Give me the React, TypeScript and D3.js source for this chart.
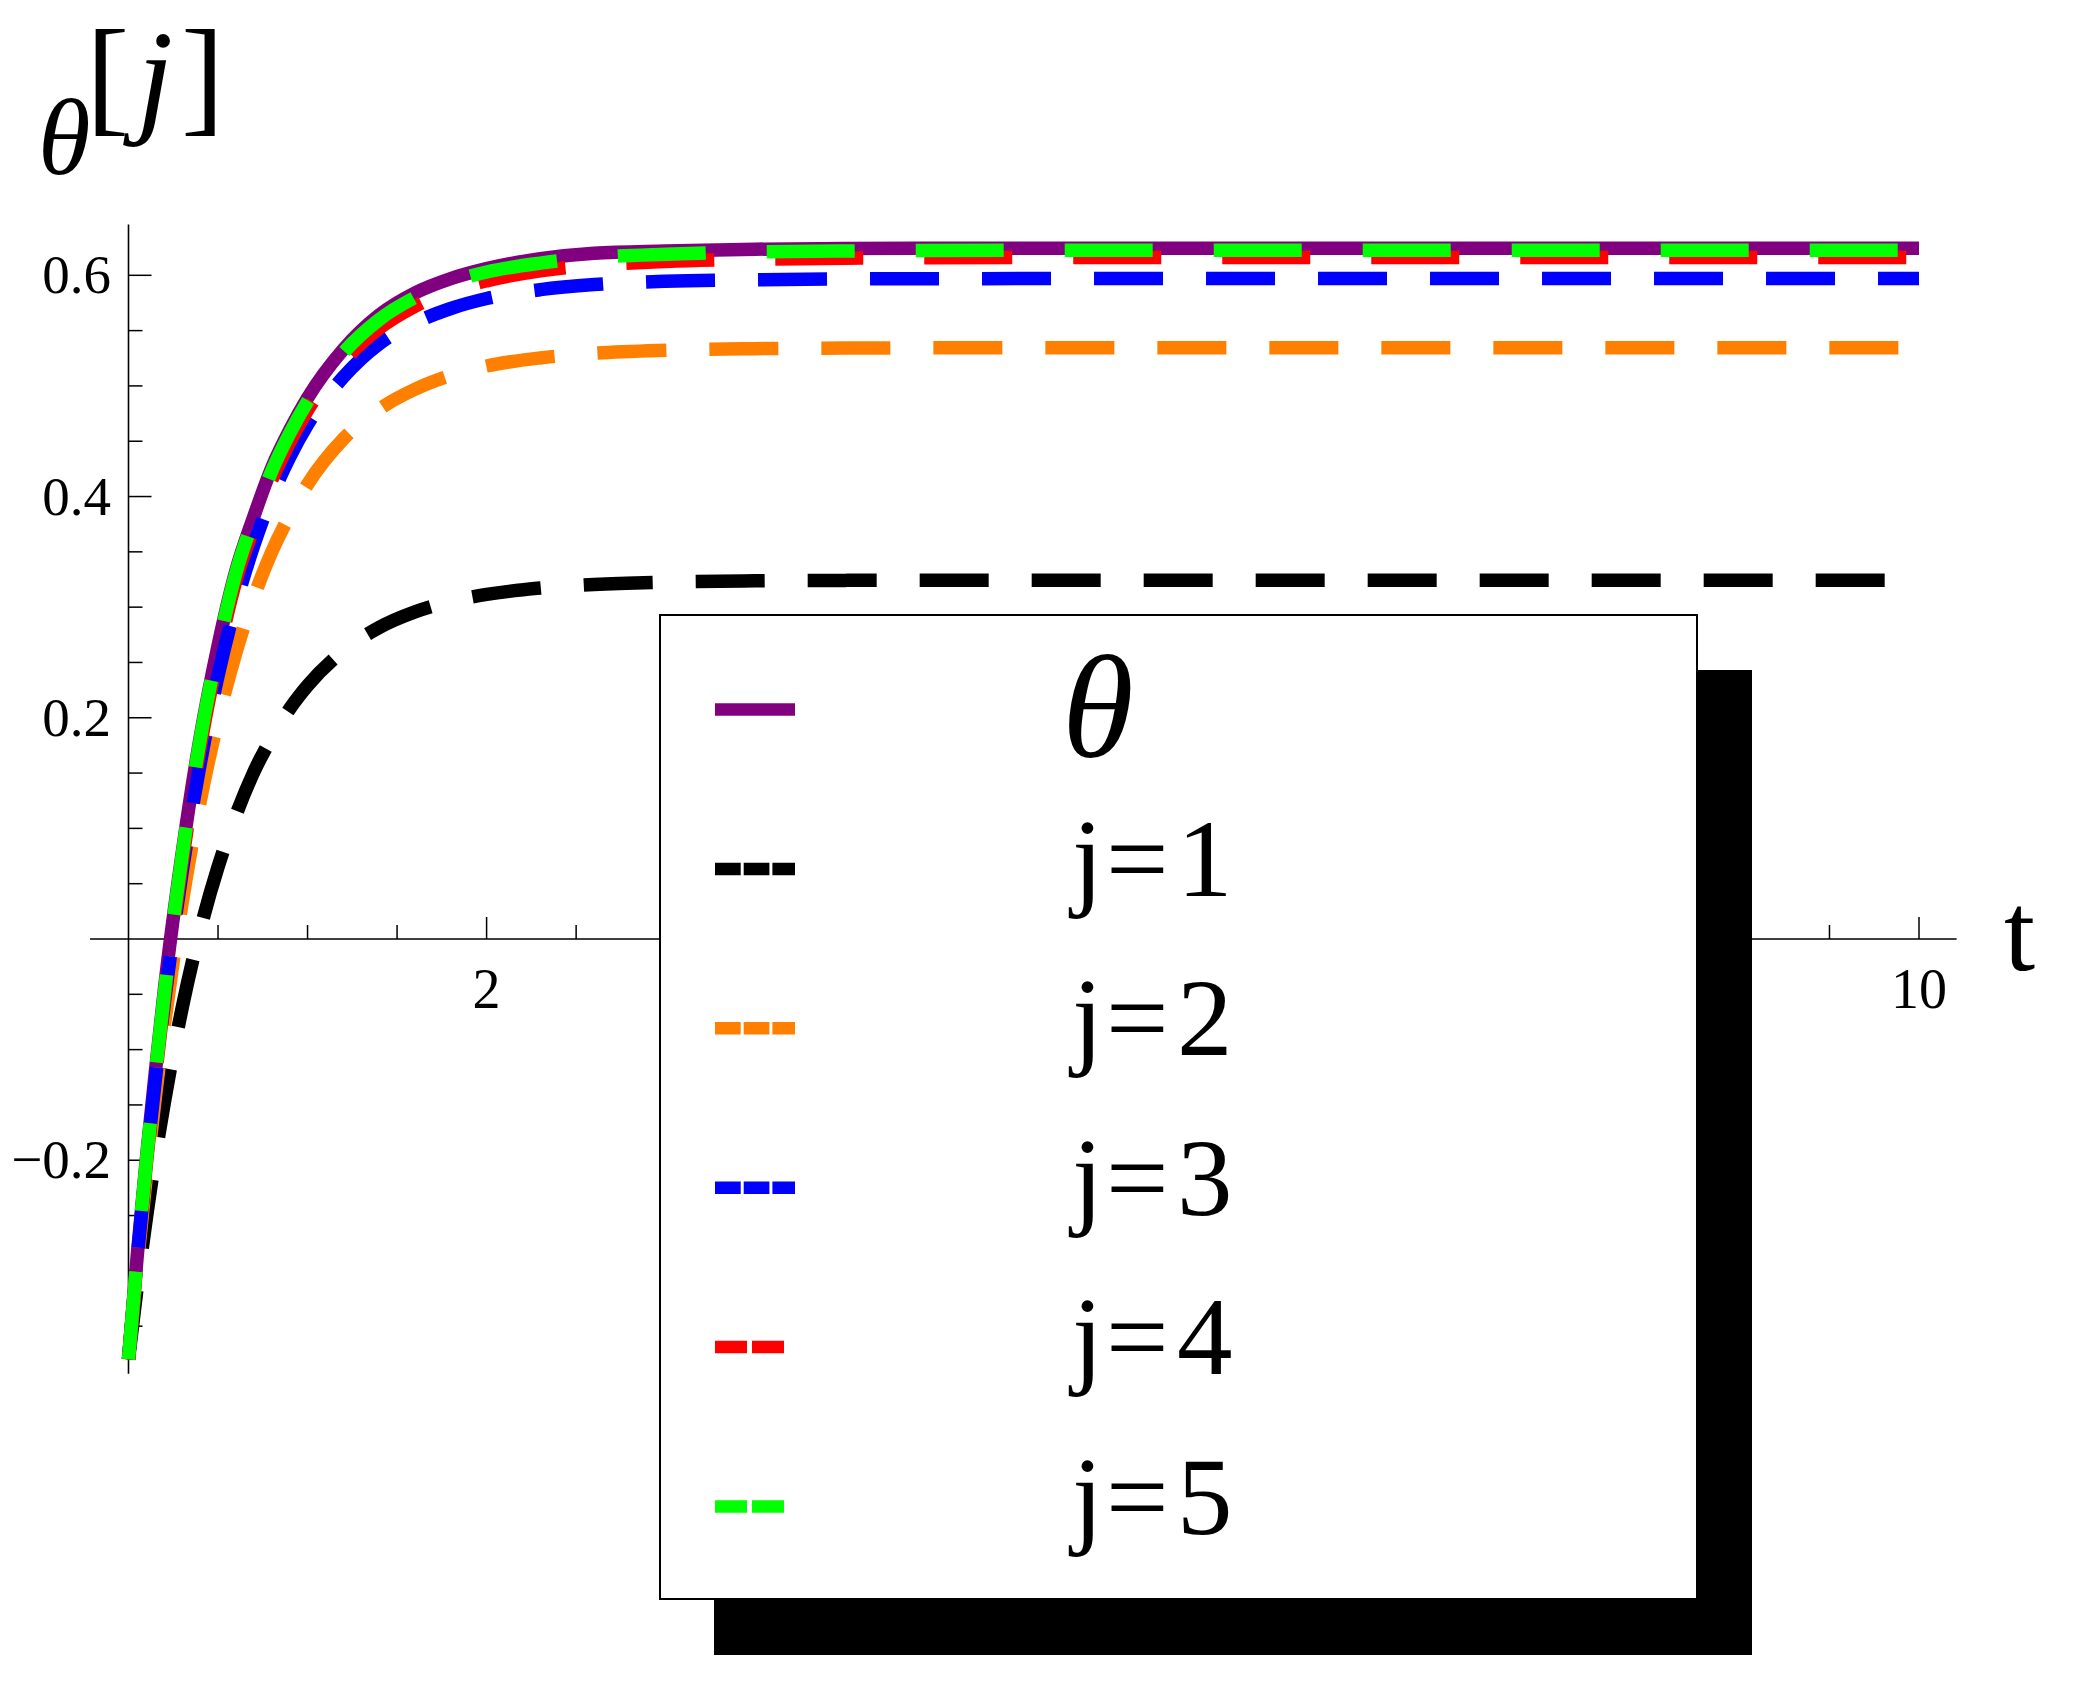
import React from "react";
import * as d3 from "d3";

const W = 2077;
const H = 1688;

// sample times (t) at which the curves were read
const tValues = [0, 0.05, 0.1, 0.15, 0.2, 0.3, 0.4, 0.5, 0.6, 0.7, 0.8, 0.9, 1.0, 1.2, 1.4, 1.6, 1.8, 2.0, 2.3, 2.6, 3.0, 3.5, 4, 5, 6, 7, 8, 9, 10];

// theta (solid purple)
const thetaValues = [-0.38, -0.284, -0.198, -0.12, -0.046, 0.078, 0.182, 0.265, 0.333, 0.382, 0.426, 0.460, 0.489, 0.533, 0.564, 0.584, 0.597, 0.606, 0.615, 0.620, 0.622, 0.6236, 0.6242, 0.6245, 0.6245, 0.6245, 0.6245, 0.6245, 0.6245];
// j = 1 (black)
const j1Values = [-0.38, -0.313, -0.252, -0.197, -0.148, -0.062, 0.008, 0.065, 0.112, 0.151, 0.182, 0.208, 0.229, 0.2605, 0.2816, 0.2957, 0.3052, 0.3115, 0.3173, 0.3205, 0.3226, 0.3238, 0.3242, 0.3244, 0.3244, 0.3244, 0.3244, 0.3244, 0.3244];
// j = 2 (orange)
const j2Values = [-0.38, -0.293, -0.214, -0.143, -0.078, 0.033, 0.124, 0.198, 0.259, 0.309, 0.350, 0.383, 0.411, 0.452, 0.479, 0.497, 0.5095, 0.518, 0.5253, 0.5295, 0.5322, 0.5337, 0.5342, 0.5345, 0.5345, 0.5345, 0.5345, 0.5345, 0.5345];
// j = 3 (blue)
const j3Values = [-0.38, -0.287, -0.203, -0.127, -0.058, 0.061, 0.158, 0.238, 0.303, 0.356, 0.400, 0.4355, 0.465, 0.508, 0.538, 0.557, 0.570, 0.579, 0.587, 0.5916, 0.5946, 0.596, 0.5967, 0.597, 0.597, 0.597, 0.597, 0.597, 0.597];
// j = 4 (red)
const j4Values = [-0.38, -0.287, -0.203, -0.126, -0.054, 0.069, 0.173, 0.256, 0.324, 0.372, 0.415, 0.449, 0.478, 0.522, 0.552, 0.572, 0.586, 0.595, 0.604, 0.609, 0.6125, 0.6145, 0.6155, 0.616, 0.616, 0.616, 0.616, 0.616, 0.616];
// j = 5 (green)
const j5Values = [-0.38, -0.285, -0.2, -0.122, -0.049, 0.076, 0.180, 0.263, 0.331, 0.380, 0.423, 0.457, 0.486, 0.530, 0.560, 0.580, 0.594, 0.603, 0.611, 0.616, 0.619, 0.621, 0.622, 0.6226, 0.6226, 0.6226, 0.6226, 0.6226, 0.6226];

const xMajorTicks = [2, 4, 6, 8, 10];
// only the labels not hidden by the legend are visible
const xLabelTicks = [2, 10];
const xTickLabels = ["2", "10"];
const yMajorTicks = [-0.2, 0.2, 0.4, 0.6];
const yTickLabels = ["\u22120.2", "0.2", "0.4", "0.6"];
const legendLabels = ["θ", "1", "2", "3", "4", "5"];

const series = [
  { key: "theta", values: thetaValues, color: "#800080", dash: null, legendDash: null, legendLen: 80 },
  { key: "j1", values: j1Values, color: "#000000", dash: "69 43", legendDash: "25.7 3", legendLen: 80 },
  { key: "j2", values: j2Values, color: "#FF8000", dash: "69 43", legendDash: "25.7 3", legendLen: 80 },
  { key: "j3", values: j3Values, color: "#0000FF", dash: "69 43", legendDash: "25.7 3", legendLen: 80 },
  { key: "j4", values: j4Values, color: "#FF0000", dash: "88 61", legendDash: "32 5", legendLen: 69 },
  { key: "j5", values: j5Values, color: "#00FF00", dash: "88 61", legendDash: "32 5", legendLen: 69 },
];

const FONT = "'Liberation Serif', 'Times New Roman', serif";

export default function App() {
  const x = d3.scaleLinear().domain([0, 10]).range([128.5, 1919]);
  const y = d3.scaleLinear().domain([0, 0.6]).range([939, 275.3]);

  const line = d3
    .line<[number, number]>()
    .x((d) => x(d[0]))
    .y((d) => y(d[1]))
    .curve(d3.curveMonotoneX);

  const xMinor = d3.range(0.5, 10.01, 0.5).filter((v) => Math.abs(v / 2 - Math.round(v / 2)) > 1e-6);
  const yMinor = d3.range(-0.35, 0.601, 0.05).filter((v) => Math.abs(v / 0.2 - Math.round(v / 0.2)) > 1e-6);

  const x0 = x(0);
  const y0 = y(0);

  const legX = 660, legY = 615, legW = 1037, legH = 984;
  const rowY0 = 709.5, rowStep = 159.4;
  const supY = 119;

  return (
    <svg
      width={W}
      height={H}
      viewBox={`0 0 ${W} ${H}`}
      style={{ position: "absolute", left: 0, top: 0, background: "#fff" }}
    >
      <rect x={0} y={0} width={W} height={H} fill="#fff" />

      {/* axes */}
      <line x1={x(-0.215)} x2={x(10.21)} y1={y0} y2={y0} stroke="#000" strokeWidth={1.6} />
      <line x1={x0} x2={x0} y1={y(0.646)} y2={y(-0.393)} stroke="#000" strokeWidth={1.6} />

      {xMajorTicks.map((v) => (
        <line key={"xM" + v} x1={x(v)} x2={x(v)} y1={y0} y2={y0 - 22} stroke="#000" strokeWidth={1.5} />
      ))}
      {xMinor.map((v) => (
        <line key={"xm" + v} x1={x(v)} x2={x(v)} y1={y0} y2={y0 - 14} stroke="#000" strokeWidth={1.5} />
      ))}
      {yMajorTicks.map((v) => (
        <line key={"yM" + v} x1={x0} x2={x0 + 23} y1={y(v)} y2={y(v)} stroke="#000" strokeWidth={1.5} />
      ))}
      {yMinor.map((v) => (
        <line key={"ym" + v.toFixed(2)} x1={x0} x2={x0 + 14} y1={y(v)} y2={y(v)} stroke="#000" strokeWidth={1.5} />
      ))}

      {xLabelTicks.map((v, i) => (
        <text key={"xl" + v} x={x(v)} y={1008} textAnchor="middle" fontFamily={FONT} fontSize={56} fill="#000">
          {xTickLabels[i]}
        </text>
      ))}
      {yMajorTicks.map((v, i) => (
        <text key={"yl" + v} x={111} y={y(v) + 18} textAnchor="end" fontFamily={FONT} fontSize={55} fill="#000">
          {yTickLabels[i]}
        </text>
      ))}

      {/* axis labels */}
      <text x={2004} y={970} fontFamily={FONT} fontSize={112} fill="#000">t</text>
      <text x={38} y={174} fontFamily={FONT} fontStyle="italic" fontSize={107} fill="#000">θ</text>
      <text x={86} y={supY} fontFamily={FONT} fontSize={130} fill="#000">[</text>
      <text x={137} y={supY} fontFamily={FONT} fontStyle="italic" fontSize={130} fill="#000">j</text>
      <text x={181} y={supY} fontFamily={FONT} fontSize={130} fill="#000">]</text>

      {/* curves */}
      {series.map((s) => (
        <path
          key={s.key}
          d={line(tValues.map((t, i) => [t, s.values[i]] as [number, number])) || ""}
          fill="none"
          stroke={s.color}
          strokeWidth={13.5}
          strokeDasharray={s.dash || undefined}
          strokeLinecap="butt"
          strokeLinejoin="round"
        />
      ))}

      {/* legend */}
      <rect x={legX + 54} y={legY + 55} width={legW + 1} height={legH + 1} fill="#000" />
      <rect x={legX} y={legY} width={legW} height={legH} fill="#fff" stroke="#000" strokeWidth={2} />
      {series.map((s, i) => {
        const cy = rowY0 + i * rowStep;
        return (
          <g key={"leg" + s.key}>
            <line
              x1={715}
              x2={715 + s.legendLen}
              y1={cy}
              y2={cy}
              stroke={s.color}
              strokeWidth={12.5}
              strokeDasharray={s.legendDash || undefined}
            />
            {i === 0 ? (
              <text x={1062} y={757} fontFamily={FONT} fontStyle="italic" fontSize={146} fill="#000">
                {legendLabels[i]}
              </text>
            ) : (
              <text fontFamily={FONT} fontSize={111} fill="#000">
                <tspan x={1072} y={cy + 27}>j</tspan>
                <tspan x={1106} y={cy + 27}>=</tspan>
                <tspan x={1177} y={cy + 27}>{legendLabels[i]}</tspan>
              </text>
            )}
          </g>
        );
      })}
    </svg>
  );
}
